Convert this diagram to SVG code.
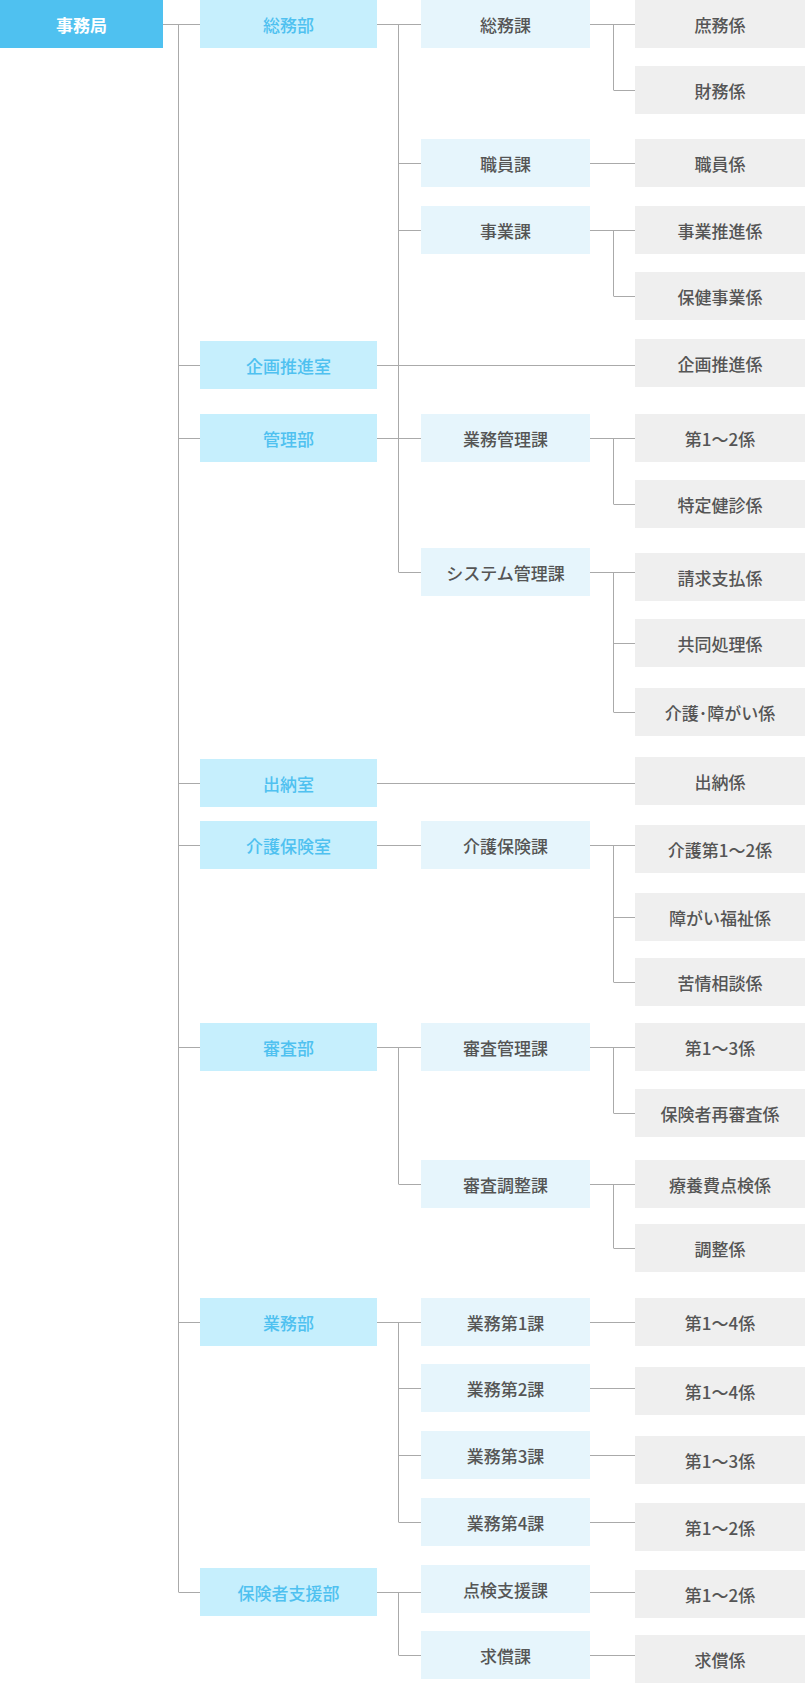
<svg xmlns="http://www.w3.org/2000/svg" width="805" height="1684" viewBox="0 0 805 1684">
<style>
text{font-family:"Noto Sans CJK JP","Noto Sans",sans-serif;font-size:17px;font-weight:500;text-anchor:middle;dominant-baseline:central}
.c0 rect{fill:#4fc1f0}.c0 text{fill:#fff;font-weight:bold}
.c1 rect{fill:#c6effd}.c1 text{fill:#4fc1f0}
.c2 rect{fill:#e6f5fc}.c2 text{fill:#555}
.c3 rect{fill:#efefef}.c3 text{fill:#555}
#connectors path{stroke:#aaa;stroke-width:1;fill:none}
</style>
<g id="connectors"><path d="M163 24.5H178.5M178.5 24V1592M178.5 24.5H200M178.5 365.5H200M178.5 438.5H200M178.5 783.5H200M178.5 845.5H200M178.5 1047.5H200M178.5 1322.5H200M178.5 1592.5H200
M377 24.5H421M398.5 24V572M398.5 163.5H421M398.5 230.5H421
M590 24.5H635M613.5 24V90M613.5 90.5H635
M590 163.5H635
M590 230.5H635M613.5 230V296M613.5 296.5H635
M377 365.5H635
M377 438.5H421M398.5 438V572M398.5 572.5H421
M590 438.5H635M613.5 438V504M613.5 504.5H635
M590 572.5H635M613.5 572V712M613.5 643.5H635M613.5 712.5H635
M377 783.5H635
M377 845.5H421
M590 845.5H635M613.5 845V982M613.5 917.5H635M613.5 982.5H635
M377 1047.5H421M398.5 1047V1184M398.5 1184.5H421
M590 1047.5H635M613.5 1047V1113M613.5 1113.5H635
M590 1184.5H635M613.5 1184V1248M613.5 1248.5H635
M377 1322.5H421M398.5 1322V1522M398.5 1388.5H421M398.5 1455.5H421M398.5 1522.5H421
M590 1322.5H635M590 1388.5H635M590 1455.5H635M590 1522.5H635
M377 1592.5H421M398.5 1592V1655M398.5 1655.5H421
M590 1592.5H635M590 1655.5H635"/></g>
<g id="n0" class="c0"><rect x="0" y="0" width="163" height="48"/><text x="81.5" y="24">事務局</text></g>
<g id="d1" class="c1"><rect x="200" y="0" width="177" height="48"/><text x="288.5" y="24">総務部</text></g>
<g id="d2" class="c1"><rect x="200" y="341" width="177" height="48"/><text x="288.5" y="365">企画推進室</text></g>
<g id="d3" class="c1"><rect x="200" y="414" width="177" height="48"/><text x="288.5" y="438">管理部</text></g>
<g id="d4" class="c1"><rect x="200" y="759" width="177" height="48"/><text x="288.5" y="783">出納室</text></g>
<g id="d5" class="c1"><rect x="200" y="821" width="177" height="48"/><text x="288.5" y="845">介護保険室</text></g>
<g id="d6" class="c1"><rect x="200" y="1023" width="177" height="48"/><text x="288.5" y="1047">審査部</text></g>
<g id="d7" class="c1"><rect x="200" y="1298" width="177" height="48"/><text x="288.5" y="1322">業務部</text></g>
<g id="d8" class="c1"><rect x="200" y="1568" width="177" height="48"/><text x="288.5" y="1592">保険者支援部</text></g>
<g id="s1" class="c2"><rect x="421" y="0" width="169" height="48"/><text x="505.5" y="24">総務課</text></g>
<g id="s2" class="c2"><rect x="421" y="139" width="169" height="48"/><text x="505.5" y="163">職員課</text></g>
<g id="s3" class="c2"><rect x="421" y="206" width="169" height="48"/><text x="505.5" y="230">事業課</text></g>
<g id="s4" class="c2"><rect x="421" y="414" width="169" height="48"/><text x="505.5" y="438">業務管理課</text></g>
<g id="s5" class="c2"><rect x="421" y="548" width="169" height="48"/><text x="505.5" y="572">システム管理課</text></g>
<g id="s6" class="c2"><rect x="421" y="821" width="169" height="48"/><text x="505.5" y="845">介護保険課</text></g>
<g id="s7" class="c2"><rect x="421" y="1023" width="169" height="48"/><text x="505.5" y="1047">審査管理課</text></g>
<g id="s8" class="c2"><rect x="421" y="1160" width="169" height="48"/><text x="505.5" y="1184">審査調整課</text></g>
<g id="s9" class="c2"><rect x="421" y="1298" width="169" height="48"/><text x="505.5" y="1322">業務第1課</text></g>
<g id="s10" class="c2"><rect x="421" y="1364" width="169" height="48"/><text x="505.5" y="1388">業務第2課</text></g>
<g id="s11" class="c2"><rect x="421" y="1431" width="169" height="48"/><text x="505.5" y="1455">業務第3課</text></g>
<g id="s12" class="c2"><rect x="421" y="1498" width="169" height="48"/><text x="505.5" y="1522">業務第4課</text></g>
<g id="s13" class="c2"><rect x="421" y="1565" width="169" height="48"/><text x="505.5" y="1589">点検支援課</text></g>
<g id="s14" class="c2"><rect x="421" y="1631" width="169" height="48"/><text x="505.5" y="1655">求償課</text></g>
<g id="k1" class="c3"><rect x="635" y="0" width="170" height="48"/><text x="720" y="24">庶務係</text></g>
<g id="k2" class="c3"><rect x="635" y="66" width="170" height="48"/><text x="720" y="90">財務係</text></g>
<g id="k3" class="c3"><rect x="635" y="139" width="170" height="48"/><text x="720" y="163">職員係</text></g>
<g id="k4" class="c3"><rect x="635" y="206" width="170" height="48"/><text x="720" y="230">事業推進係</text></g>
<g id="k5" class="c3"><rect x="635" y="272" width="170" height="48"/><text x="720" y="296">保健事業係</text></g>
<g id="k6" class="c3"><rect x="635" y="339" width="170" height="48"/><text x="720" y="363">企画推進係</text></g>
<g id="k7" class="c3"><rect x="635" y="414" width="170" height="48"/><text x="720" y="438">第1～2係</text></g>
<g id="k8" class="c3"><rect x="635" y="480" width="170" height="48"/><text x="720" y="504">特定健診係</text></g>
<g id="k9" class="c3"><rect x="635" y="553" width="170" height="48"/><text x="720" y="577">請求支払係</text></g>
<g id="k10" class="c3"><rect x="635" y="619" width="170" height="48"/><text x="720" y="643">共同処理係</text></g>
<g id="k11" class="c3"><rect x="635" y="688" width="170" height="48"/><text x="720" y="712">介護･障がい係</text></g>
<g id="k12" class="c3"><rect x="635" y="757" width="170" height="48"/><text x="720" y="781">出納係</text></g>
<g id="k13" class="c3"><rect x="635" y="825" width="170" height="48"/><text x="720" y="849">介護第1～2係</text></g>
<g id="k14" class="c3"><rect x="635" y="893" width="170" height="48"/><text x="720" y="917">障がい福祉係</text></g>
<g id="k15" class="c3"><rect x="635" y="958" width="170" height="48"/><text x="720" y="982">苦情相談係</text></g>
<g id="k16" class="c3"><rect x="635" y="1023" width="170" height="48"/><text x="720" y="1047">第1～3係</text></g>
<g id="k17" class="c3"><rect x="635" y="1089" width="170" height="48"/><text x="720" y="1113">保険者再審査係</text></g>
<g id="k18" class="c3"><rect x="635" y="1160" width="170" height="48"/><text x="720" y="1184">療養費点検係</text></g>
<g id="k19" class="c3"><rect x="635" y="1224" width="170" height="48"/><text x="720" y="1248">調整係</text></g>
<g id="k20" class="c3"><rect x="635" y="1298" width="170" height="48"/><text x="720" y="1322">第1～4係</text></g>
<g id="k21" class="c3"><rect x="635" y="1367" width="170" height="48"/><text x="720" y="1391">第1～4係</text></g>
<g id="k22" class="c3"><rect x="635" y="1436" width="170" height="48"/><text x="720" y="1460">第1～3係</text></g>
<g id="k23" class="c3"><rect x="635" y="1503" width="170" height="48"/><text x="720" y="1527">第1～2係</text></g>
<g id="k24" class="c3"><rect x="635" y="1570" width="170" height="48"/><text x="720" y="1594">第1～2係</text></g>
<g id="k25" class="c3"><rect x="635" y="1635" width="170" height="48"/><text x="720" y="1659">求償係</text></g>
</svg>
